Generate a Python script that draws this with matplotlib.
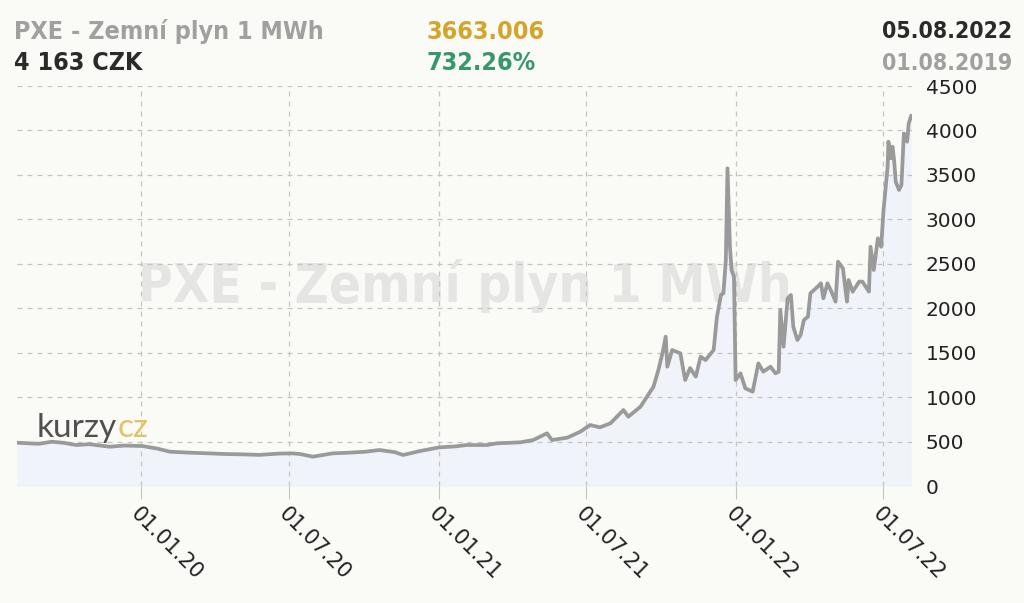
import pandas as pd
import matplotlib
matplotlib.use("Agg")
import matplotlib.pyplot as plt
import matplotlib.dates as mdates

# ====== DATA ======
dates = [
    "2019-08-01", "2019-08-16", "2019-08-28", "2019-09-13", "2019-09-28", "2019-10-13",
    "2019-10-29", "2019-11-23", "2019-12-11", "2020-01-02", "2020-01-21", "2020-02-05",
    "2020-02-29", "2020-03-25", "2020-04-12", "2020-05-04", "2020-05-25", "2020-06-19",
    "2020-07-05", "2020-07-14", "2020-07-30", "2020-08-23", "2020-09-13", "2020-10-02",
    "2020-10-20", "2020-11-08", "2020-11-18", "2020-12-09", "2021-01-02", "2021-01-21",
    "2021-02-04", "2021-03-01", "2021-03-13", "2021-04-11", "2021-04-27", "2021-05-14",
    "2021-05-20", "2021-06-08", "2021-06-24", "2021-07-06", "2021-07-18", "2021-07-31",
    "2021-08-16", "2021-08-22", "2021-09-06", "2021-09-14", "2021-09-22", "2021-09-28",
    "2021-10-03", "2021-10-07", "2021-10-09", "2021-10-15", "2021-10-25", "2021-10-31",
    "2021-11-06", "2021-11-13", "2021-11-19", "2021-11-25", "2021-12-05", "2021-12-09",
    "2021-12-14", "2021-12-17", "2021-12-20", "2021-12-22", "2021-12-25", "2021-12-27",
    "2021-12-30", "2022-01-01", "2022-01-07", "2022-01-13", "2022-01-22", "2022-01-29",
    "2022-02-04", "2022-02-13", "2022-02-19", "2022-02-23", "2022-02-25", "2022-03-01",
    "2022-03-06", "2022-03-10", "2022-03-13", "2022-03-18", "2022-03-22", "2022-03-26",
    "2022-03-31", "2022-04-03", "2022-04-12", "2022-04-16", "2022-04-19", "2022-04-24",
    "2022-04-28", "2022-05-04", "2022-05-07", "2022-05-13", "2022-05-18", "2022-05-20",
    "2022-05-25", "2022-06-02", "2022-06-06", "2022-06-10", "2022-06-14", "2022-06-16",
    "2022-06-20", "2022-06-25", "2022-06-29", "2022-07-02", "2022-07-07", "2022-07-08",
    "2022-07-11", "2022-07-13", "2022-07-15", "2022-07-17", "2022-07-21", "2022-07-24",
    "2022-07-27", "2022-07-31", "2022-08-02", "2022-08-05",
]
prices = [
    487, 480, 475, 498, 485, 461,
    470, 442, 455, 450, 420, 386,
    375, 367, 360, 356, 350, 365,
    367, 360, 330, 367, 375, 385,
    405, 380, 349, 394, 435, 445,
    461, 461, 480, 491, 517, 593,
    517, 544, 611, 686, 660, 705,
    855, 780, 892, 1005, 1117, 1305,
    1493, 1680, 1342, 1530, 1493, 1192,
    1327, 1230, 1455, 1417, 1530, 1900,
    2150, 2168, 2542, 3574, 2700, 2430,
    2355, 1192, 1267, 1099, 1061, 1380,
    1286, 1342, 1267, 1286, 1980, 1567,
    2111, 2149, 1792, 1642, 1699, 1867,
    1905, 2168, 2243, 2280, 2111, 2280,
    2205, 2074, 2524, 2449, 2074, 2318,
    2186, 2299, 2299, 2243, 2186, 2692,
    2430, 2786, 2692, 3105, 3592, 3873,
    3686, 3817, 3667, 3424, 3330, 3386,
    3967, 3873, 4080, 4163,
]
tick_dates = ["2020-01-01", "2020-07-01", "2021-01-01", "2021-07-01", "2022-01-01", "2022-07-01"]
y_ticks = [0, 500, 1000, 1500, 2000, 2500, 3000, 3500, 4000, 4500]

title = "PXE - Zemní plyn 1 MWh"
last_price = "4 163 CZK"
change_abs = "3663.006"
change_pct = "732.26%"
date_to = "05.08.2022"
date_from = "01.08.2019"

df = pd.DataFrame({"date": pd.to_datetime(dates), "price": prices})

# ====== STYLE ======
bg = "#fafaf6"
line_col = "#9a9a9a"
fill_col = "#f1f3fa"
grid_col = "#c4c4c4"

fig = plt.figure(figsize=(10.24, 6.03), dpi=100, facecolor=bg)
ax = fig.add_axes([17 / 1024, 1 - 486 / 603, (912 - 17) / 1024, 400 / 603])
ax.set_facecolor(bg)

# watermark behind the line
ax.text(0.5, 0.5, title, transform=ax.transAxes, ha="center", va="center",
        fontsize=38, fontweight="bold", fontstretch="condensed",
        color="#e5e5e3", zorder=0.5)

ax.fill_between(df["date"], df["price"], 0, color=fill_col, zorder=1, lw=0)
ax.plot(df["date"], df["price"], color=line_col, lw=2.7, zorder=3, solid_joinstyle="round")

ax.set_xlim(pd.Timestamp("2019-08-01"), pd.Timestamp("2022-08-06"))
ax.set_ylim(0, 4500)

ax.set_xticks(pd.to_datetime(tick_dates))
ax.xaxis.set_major_formatter(mdates.DateFormatter("%d.%m.%y"))
ax.set_yticks(y_ticks)
ax.yaxis.tick_right()

ax.grid(True, color=grid_col, ls=(0, (4, 4)), lw=0.9, zorder=2)
for s in ax.spines.values():
    s.set_visible(False)

ax.tick_params(axis="y", length=0, pad=10, labelsize=14.5, labelcolor="#222222")
ax.tick_params(axis="x", length=9, color=grid_col, pad=4, labelsize=15, labelcolor="#222222")
for lab in ax.get_xticklabels():
    lab.set_rotation(-45)
    lab.set_ha("left")
    lab.set_va("top")
    lab.set_rotation_mode("anchor")

# ====== HEADER ======
hdr = dict(fontsize=18, fontweight="bold", fontstretch="condensed", va="center")
fig.text(14 / 1024, 1 - 32 / 603, title, color="#a0a0a0", ha="left", **hdr)
fig.text(14 / 1024, 1 - 63 / 603, last_price, color="#2a2a2a", ha="left", **hdr)
fig.text(427 / 1024, 1 - 32 / 603, change_abs, color="#d4a52c", ha="left", **hdr)
fig.text(427 / 1024, 1 - 63 / 603, change_pct, color="#36976a", ha="left", **hdr)
hdr["fontsize"] = 16.5
fig.text(1012 / 1024, 1 - 32 / 603, date_to, color="#2a2a2a", ha="right", **hdr)
fig.text(1012 / 1024, 1 - 63 / 603, date_from, color="#a0a0a0", ha="right", **hdr)

# logo
logo = fig.text(37 / 1024, 1 - 428 / 603, "kurzy", color="#505050", fontsize=24,
                family="Lato", va="center", ha="left")
ax.annotate("cz", xy=(1.0, 0.5), xycoords=logo, ha="left", va="center",
            color="#e2c465", fontsize=24, family="Lato", annotation_clip=False)

fig.savefig("out.png", dpi=100, facecolor=bg)
